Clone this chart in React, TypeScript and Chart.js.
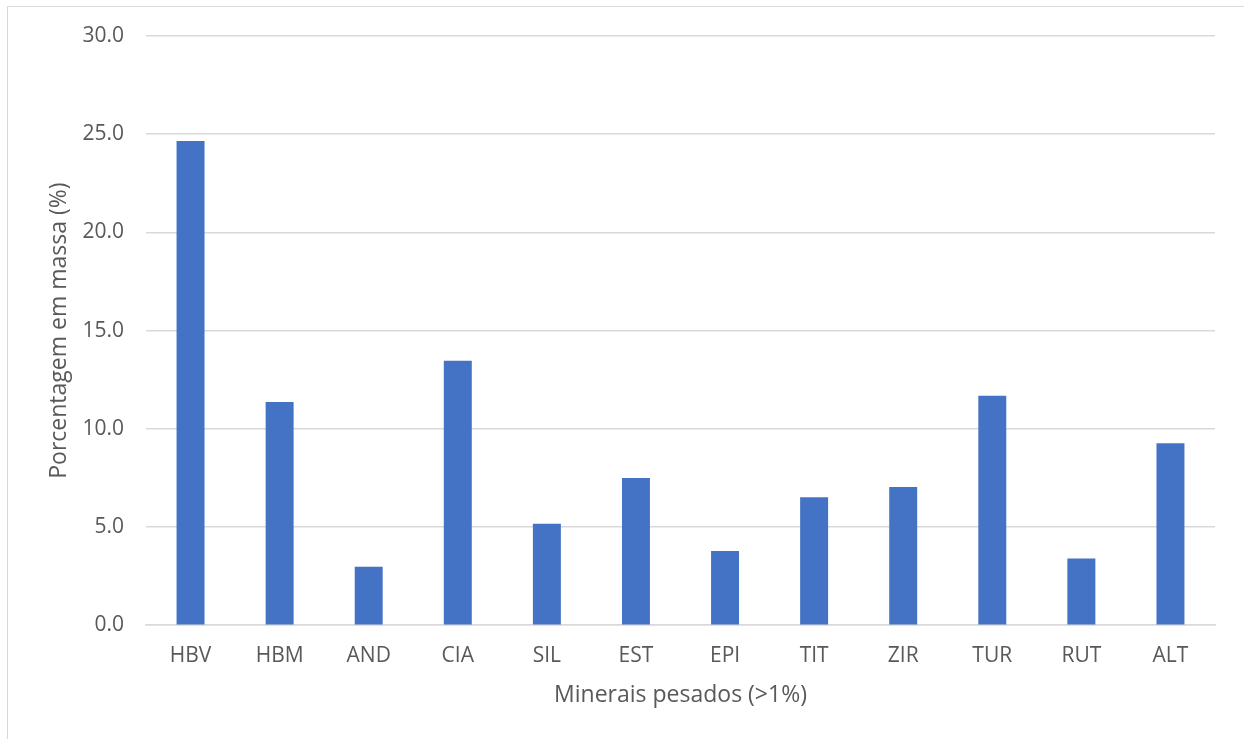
import React, { useEffect, useRef } from "react";
import { Chart, registerables } from "chart.js";

Chart.register(...registerables);

const categories = ["HBV", "HBM", "AND", "CIA", "SIL", "EST", "EPI", "TIT", "ZIR", "TUR", "RUT", "ALT"];
const values = [24.65, 11.37, 2.97, 13.46, 5.16, 7.49, 3.78, 6.52, 7.04, 11.68, 3.4, 9.26];
const yTicks = [0, 5, 10, 15, 20, 25, 30];
const yTitle = "Porcentagem em massa (%)";
const xTitle = "Minerais pesados (>1%)";

const FONT = "'Open Sans', 'Liberation Sans', sans-serif";
const TEXT = "#595959";
const GRID = "#D9D9D9";

export default function App() {
  const ref = useRef<HTMLCanvasElement>(null);
  useEffect(() => {
    if (!ref.current) return;
    const chart = new Chart(ref.current, {
      type: "bar",
      data: {
        labels: categories,
        datasets: [
          {
            data: values,
            backgroundColor: "#4472C4",
            borderWidth: 0,
            categoryPercentage: 1,
            barPercentage: 0.314,
          },
        ],
      },
      options: {
        animation: false,
        responsive: false,
        maintainAspectRatio: false,
        layout: { padding: { left: 46, right: 29, top: 36, bottom: 30 } },
        plugins: { legend: { display: false }, tooltip: { enabled: false } },
        scales: {
          x: {
            grid: { display: false, drawTicks: false },
            border: { display: true, color: GRID, width: 1.5 },
            ticks: { color: TEXT, font: { family: FONT, size: 21 }, padding: 18 },
            title: {
              display: true,
              text: xTitle,
              color: TEXT,
              font: { family: FONT, size: 23 },
              padding: { top: -5, bottom: 0 },
            },
          },
          y: {
            min: 0,
            max: 30,
            afterBuildTicks: (scale: any) => {
              scale.ticks = yTicks.map((v) => ({ value: v }));
            },
            afterFit: (scale: any) => {
              scale.width = 100;
            },
            grid: { color: GRID, lineWidth: 1.5, drawTicks: false },
            border: { display: false },
            ticks: {
              color: TEXT,
              font: { family: FONT, size: 21 },
              padding: 22,
              callback: (v: any) => Number(v).toFixed(1),
            },
            title: {
              display: true,
              text: yTitle,
              color: TEXT,
              font: { family: FONT, size: 23 },
              padding: { top: 0, bottom: 0 },
            },
          },
        },
      },
    });
    return () => chart.destroy();
  }, []);
  return (
    <div style={{ position: "fixed", left: 0, top: 0, width: 1244, height: 739, background: "#fff", overflow: "hidden" }}>
      <div
        style={{
          position: "absolute",
          left: 7,
          top: 6,
          width: 1260,
          height: 760,
          border: "1.5px solid #D9D9D9",
          boxSizing: "border-box",
        }}
      />
      <canvas ref={ref} width={1244} height={739} style={{ position: "absolute", left: 0, top: 0 }} />
    </div>
  );
}
